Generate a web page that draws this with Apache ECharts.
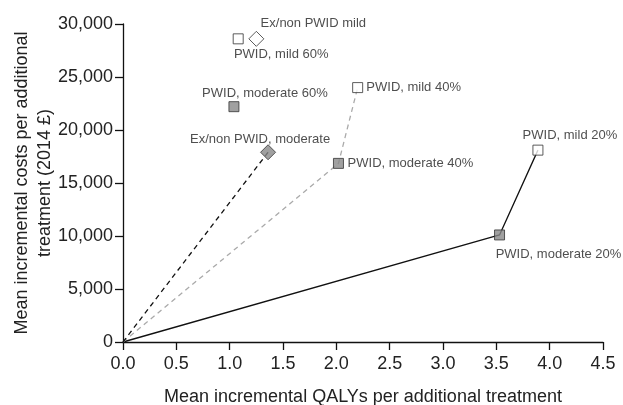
<!DOCTYPE html>
<html>
<head>
<meta charset="utf-8">
<script src="https://cdn.jsdelivr.net/npm/echarts@6/dist/echarts.min.js"></script>
<style>html,body{margin:0;padding:0;background:#fff}#c{width:623px;height:405px}</style>
</head>
<body>
<div id="c"></div>
<script>
// Data (QALYs, cost £)
const origin = [0, 0];
const pwidMild20 = [3.89, 18100];
const pwidModerate20 = [3.53, 10100];
const pwidMild40 = [2.2, 24000];
const pwidModerate40 = [2.02, 16850];
const pwidMild60 = [1.08, 28600];
const pwidModerate60 = [1.04, 22200];
const exMild = [1.25, 28600];
const exModerate = [1.36, 17900];
const xTicks = [0, 0.5, 1, 1.5, 2, 2.5, 3, 3.5, 4, 4.5];
const yTicks = [0, 5000, 10000, 15000, 20000, 25000, 30000];

const FONT = 'Liberation Sans, Arial, sans-serif';
const chart = echarts.init(document.getElementById('c'));

function pt(name, val, symbol, size, fill, offset) {
  return {
    name: name,
    value: val,
    symbol: symbol,
    symbolSize: size,
    itemStyle: { color: fill, borderColor: '#333', borderWidth: 1 },
    label: {
      show: true, position: 'inside', formatter: name, offset: offset,
      fontSize: 13, fontFamily: FONT, color: '#222', align: 'center', verticalAlign: 'middle'
    }
  };
}
function lineSeries(data, color, type) {
  return {
    type: 'line', data: data, symbol: 'none', silent: true, z: 2,
    lineStyle: { color: color, width: 1.3, type: type }, animation: false
  };
}

chart.setOption({
  animation: false,
  grid: { left: 123, right: 20, top: 24, bottom: 63, containLabel: false, outerBoundsMode: 'none' },
  xAxis: {
    type: 'value', min: xTicks[0], max: xTicks[xTicks.length - 1], interval: 0.5,
    name: 'Mean incremental QALYs per additional treatment',
    nameLocation: 'middle', nameGap: 46, nameMoveOverlap: false,
    nameTextStyle: { fontSize: 18, fontFamily: FONT, color: '#222' },
    axisLine: { show: true, onZero: false, lineStyle: { color: '#111', width: 1.3 } },
    axisTick: { show: true, length: 8, lineStyle: { color: '#111', width: 1.3 } },
    axisLabel: { fontSize: 18, fontFamily: FONT, color: '#222', margin: 13, formatter: v => v.toFixed(1) },
    splitLine: { show: false }
  },
  yAxis: {
    type: 'value', min: yTicks[0], max: yTicks[yTicks.length - 1], interval: 5000,
    name: 'Mean incremental costs per additional\ntreatment (2014 £)',
    nameLocation: 'middle', nameGap: 66, nameMoveOverlap: false,
    nameTextStyle: { fontSize: 18, fontFamily: FONT, color: '#222', lineHeight: 23 },
    axisLine: { show: true, onZero: false, lineStyle: { color: '#111', width: 1.3 } },
    axisTick: { show: true, length: 8, lineStyle: { color: '#111', width: 1.3 } },
    axisLabel: { fontSize: 18, fontFamily: FONT, color: '#222', margin: 10, formatter: v => v.toLocaleString('en-US') },
    splitLine: { show: false }
  },
  series: [
    lineSeries([origin, pwidModerate20, pwidMild20], '#111', 'solid'),
    lineSeries([origin, pwidModerate40, pwidMild40], '#aaaaaa', [5, 4]),
    lineSeries([origin, exModerate], '#111', [5, 4]),
    {
      type: 'scatter', z: 5, animation: false,
      data: [
        pt('Ex/non PWID mild', exMild, 'diamond', [15, 15], '#fff', [57, -15]),
        pt('PWID, mild 60%', pwidMild60, 'rect', 10, '#fff', [43, 16]),
        pt('PWID, moderate 60%', pwidModerate60, 'rect', 10, '#888', [31, -13]),
        pt('Ex/non PWID, moderate', exModerate, 'diamond', [15, 15], '#888', [-8, -13]),
        pt('PWID, mild 40%', pwidMild40, 'rect', 10, '#fff', [56, 0]),
        pt('PWID, moderate 40%', pwidModerate40, 'rect', 10, '#888', [72, 0]),
        pt('PWID, mild 20%', pwidMild20, 'rect', 10, '#fff', [32, -15]),
        pt('PWID, moderate 20%', pwidModerate20, 'rect', 10, '#888', [59, 19])
      ]
    }
  ]
});
</script>
</body>
</html>
